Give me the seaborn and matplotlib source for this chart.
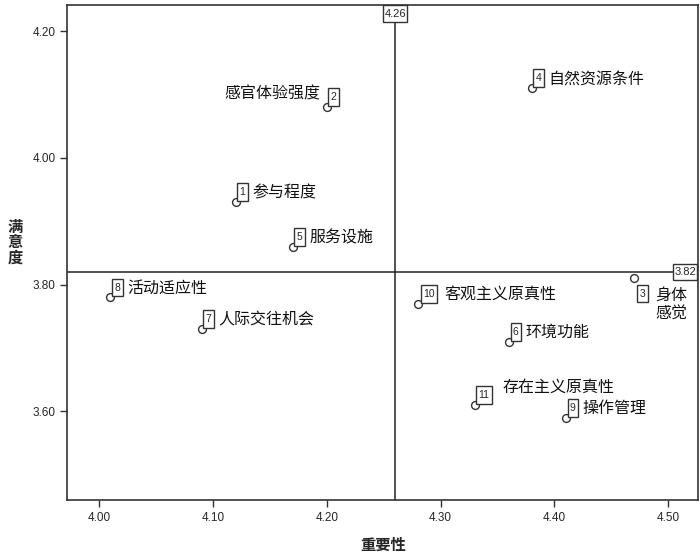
from functools import partial

import pandas as pd
import matplotlib
matplotlib.use("Agg")
import matplotlib.pyplot as plt
from matplotlib.path import Path
import seaborn as sns

# dados (importância x satisfação)
numeros = [1, 2, 3, 4, 5, 6, 7, 8, 9, 10, 11]
nomes = ['参与程度', '感官体验强度', '身体\n感觉', '自然资源条件', '服务设施', '环境功能',
         '人际交往机会', '活动适应性', '操作管理', '客观主义原真性', '存在主义原真性']
importancia = [4.12, 4.20, 4.47, 4.38, 4.17, 4.36, 4.09, 4.01, 4.41, 4.28, 4.33]
satisfacao = [3.93, 4.08, 3.81, 4.11, 3.86, 3.71, 3.73, 3.78, 3.59, 3.77, 3.61]
media_x = 4.26
media_y = 3.82
xticks = [4.00, 4.10, 4.20, 4.30, 4.40, 4.50]
yticks = [3.60, 3.80, 4.00, 4.20]

sns.set_style("ticks")
plt.rcParams['font.family'] = ['Noto Sans CJK SC', 'DejaVu Sans']


def caixa(x0, y0, width, height, mutation_size, padx=0.22, pady=0.38):
    # retângulo com margem vertical maior que a horizontal (estilo SPSS)
    px = padx * mutation_size
    py = pady * mutation_size
    x0 -= px
    y0 -= py
    x1 = x0 + width + 2 * px
    y1 = y0 + height + 2 * py
    return Path([(x0, y0), (x1, y0), (x1, y1), (x0, y1), (x0, y0)], closed=True)


def criar_df():
    return pd.DataFrame({'num': numeros, 'nome': nomes,
                         'x': importancia, 'y': satisfacao})


def desenhar(df):
    fig = plt.figure(figsize=(7, 5.6), dpi=100)
    ax = fig.add_axes([0.096, 0.107, 0.901, 0.884])

    ax.axvline(media_x, color='#222222', lw=1.1, zorder=1)
    ax.axhline(media_y, color='#222222', lw=1.1, zorder=1)

    sns.scatterplot(data=df, x='x', y='y', ax=ax, s=32, marker='o',
                    facecolor='white', edgecolor='#333333', linewidth=1.0, zorder=3)

    bb = dict(boxstyle=caixa, fc='white', ec='#333333', lw=1.0)
    bb_ref = dict(boxstyle=partial(caixa, padx=0.12, pady=0.3), fc='white',
                  ec='#333333', lw=1.0)

    # deslocamentos em pontos: centro da caixa numérica e posição do nome
    desloc = {2: ((5, 7), (-5, 9.5, 'right')),
              3: ((6, -11), (15, -19, 'left')),
              11: ((6.5, 7), (20, 13, 'left'))}
    for _, r in df.iterrows():
        n = int(r['num'])
        if n in desloc:
            bxy, (tx, ty, ha) = desloc[n]
        elif n < 10:
            bxy, (tx, ty, ha) = (5, 7), (12, 6.5, 'left')
        else:
            bxy, (tx, ty, ha) = (8, 7), (19, 6.5, 'left')
        ax.annotate(str(n), (r['x'], r['y']), xytext=bxy, textcoords='offset points',
                    ha='center', va='center', fontsize=7.5, family='Liberation Sans',
                    bbox=bb, zorder=4)
        ax.annotate(r['nome'], (r['x'], r['y']), xytext=(tx, ty), textcoords='offset points',
                    ha=ha, va='center', fontsize=11.5, color='#111111', zorder=4)

    ax.set_xlim(3.972, 4.526)
    ax.set_ylim(3.46, 4.241)
    ax.set_xticks(xticks)
    ax.set_yticks(yticks)
    ax.set_xticklabels([f'{v:.2f}' for v in xticks], family='Liberation Sans', fontsize=8.5)
    ax.set_yticklabels([f'{v:.2f}' for v in yticks], family='Liberation Sans', fontsize=8.5)
    ax.tick_params(direction='out', length=5, width=1.0, color='#333333')
    for lado in ax.spines.values():
        lado.set_visible(True)
        lado.set_linewidth(1.2)
        lado.set_color('#333333')
    ax.set_xlabel('')
    ax.set_ylabel('')

    ax.annotate(f'{media_x:.2f}', (media_x, 4.241), xytext=(0, -2.5), textcoords='offset points',
                ha='center', va='top', fontsize=8, family='Liberation Sans',
                bbox=bb_ref, zorder=5)
    ax.annotate(f'{media_y:.2f}', (4.526, media_y), xytext=(-1.5, 0), textcoords='offset points',
                ha='right', va='center', fontsize=8, family='Liberation Sans',
                bbox=bb_ref, zorder=5)

    fig.text(0.547, 0.028, '重要性', ha='center', va='center', fontsize=11,
             fontweight='bold')
    fig.text(0.022, 0.568, '满\n意\n度', ha='center', va='center', fontsize=11,
             fontweight='bold', linespacing=0.95)

    fig.savefig('out.png', dpi=100, facecolor='white')


def main():
    df = criar_df()
    desenhar(df)


if __name__ == "__main__":
    main()
